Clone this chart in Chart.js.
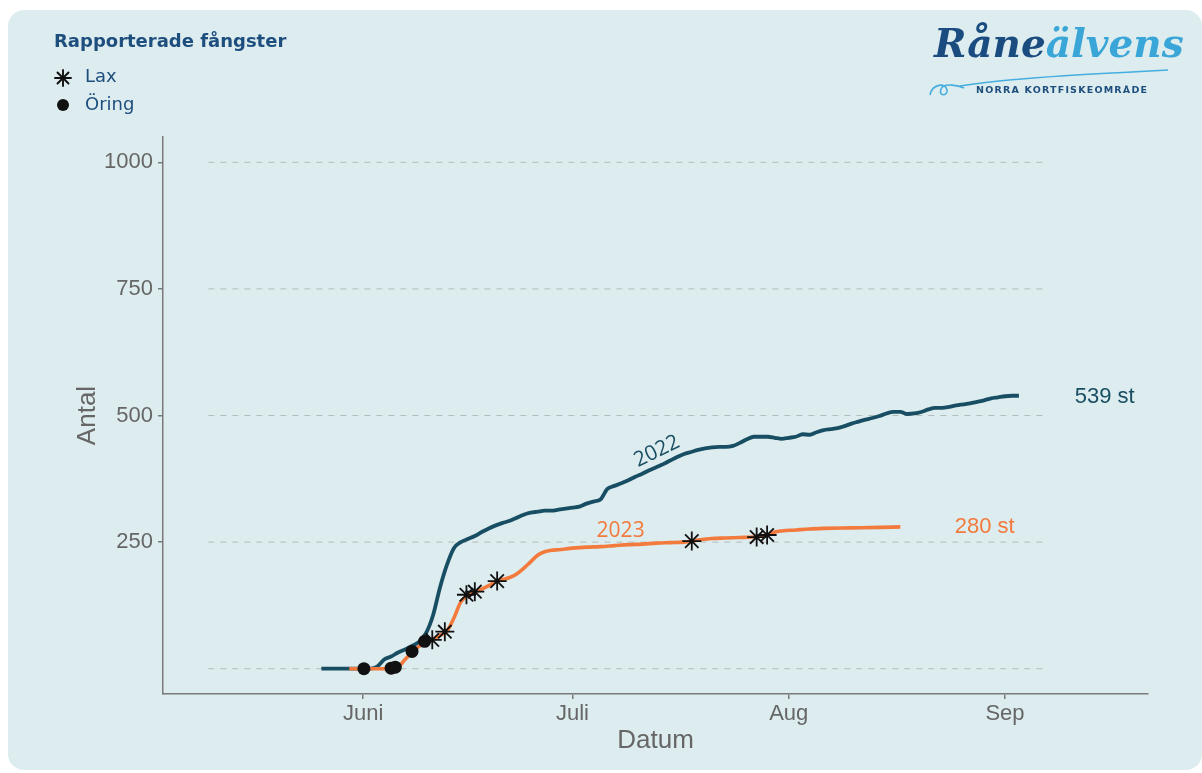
<!DOCTYPE html>
<html>
<head>
<meta charset="utf-8">
<script src="https://cdn.jsdelivr.net/npm/chart.js@4.4.0/dist/chart.umd.min.js"></script>
<style>
  html, body { margin: 0; padding: 0; background: #fff; }
  #wrap { position: relative; width: 1202px; height: 773px; overflow: hidden; }
  #panel { position: absolute; left: 8px; top: 10px; width: 1194px; height: 760px;
           background: #ddecee; border-radius: 16px; }
  #chart { position: absolute; left: 0; top: 0; }
  .leg { position: absolute; font-family: "DejaVu Sans", sans-serif; color: #1d4e7e; }
  #legTitle { left: 54px; top: 30px; font-size: 18px; font-weight: bold; }
  #legLax { left: 85px; top: 65px; font-size: 18px; }
  #legOring { left: 85px; top: 93px; font-size: 18px; }
  #logo { position: absolute; left: 934px; top: 20px; font-family: "DejaVu Serif", serif;
          font-style: italic; font-weight: bold; font-size: 39px; letter-spacing: 0px; }
  #logoSub { position: absolute; left: 976px; top: 84px; font-family: "DejaVu Sans", sans-serif;
             font-weight: bold; font-size: 9.5px; letter-spacing: 1.2px; color: #1d4e7e; }
  svg { position: absolute; left: 0; top: 0; }
</style>
</head>
<body>
<div id="wrap">
  <div id="panel"></div>
  <canvas id="chart" width="1202" height="773"></canvas>
  <div class="leg" id="legTitle">Rapporterade fångster</div>
  <div class="leg" id="legLax">Lax</div>
  <div class="leg" id="legOring">Öring</div>
  <svg width="1202" height="773">
    <g stroke="#111" stroke-width="1.9" stroke-linecap="round">
      <line x1="63" y1="70" x2="63" y2="86"/>
      <line x1="55" y1="78" x2="71" y2="78"/>
      <line x1="57.5" y1="72.5" x2="68.5" y2="83.5"/>
      <line x1="57.5" y1="83.5" x2="68.5" y2="72.5"/>
    </g>
    <circle cx="63" cy="105" r="6" fill="#111"/>
    <path d="M930 95 C932 84, 946 82, 947 90 C948 96, 938 97, 941 89 C944 82, 960 86, 964 88"
          fill="none" stroke="#45aee0" stroke-width="1.6"/>
    <path d="M960 86 C1010 78, 1090 74, 1168 70" fill="none" stroke="#45aee0" stroke-width="1.4"/>
  </svg>
  <div id="logo"><span style="color:#1a4c80">Råne</span><span style="color:#3aa6d8">älvens</span></div>
  <div id="logoSub">NORRA KORTFISKEOMRÅDE</div>
</div>
<script>
// days counted from 1 June
const xTickDays = [0, 30, 61, 92];
const xTickLabels = ['Juni', 'Juli', 'Aug', 'Sep'];
const yTickValues = [250, 500, 750, 1000];
const gridValues = [0, 250, 500, 750, 1000];
const gridDays = [-22.2, 98.1];

const days2022 = [-6, 1, 2, 3, 4, 5, 6, 7, 8, 9, 10, 11, 12, 13, 14, 15, 16, 17, 18, 19, 20,
  21, 22, 23, 24, 25, 26, 27, 28, 29, 30, 31, 32, 33, 34, 35, 36, 37, 38, 39, 40,
  41, 42, 43, 44, 45, 46, 47, 48, 49, 50, 51, 52, 53, 54, 55, 56, 57, 58, 59, 60,
  61, 62, 63, 64, 65, 66, 67, 68, 69, 70, 71, 72, 73, 74, 75, 76, 77, 78, 79, 80,
  81, 82, 83, 84, 85, 86, 87, 88, 89, 90, 91, 92, 93, 94];
const values2022 = [0, 0, 4, 18, 24, 32, 38, 45, 53, 70, 105, 160, 205, 238, 250, 256, 262, 270, 277, 283, 288,
  292, 298, 304, 308, 310, 312, 312, 314, 316, 318, 320, 326, 330, 334, 355, 361, 366, 372, 379, 385,
  392, 398, 404, 411, 418, 424, 428, 432, 435, 437, 438, 438, 440, 446, 453, 458, 458, 458, 456, 454,
  456, 458, 463, 462, 467, 471, 473, 475, 479, 484, 488, 492, 495, 499, 504, 507, 507, 503, 504, 507,
  512, 515, 515, 517, 520, 522, 524, 527, 530, 534, 536, 538, 539, 539];

const days2023 = [-2, 4, 5, 6, 7, 8, 9, 10, 11, 12, 13, 14, 15, 16, 17, 18, 19, 20, 21, 22, 23, 24,
  25, 26, 27, 28, 30, 32, 34, 36, 38, 40, 42, 44, 46, 47, 48, 50, 52, 54, 56, 57, 58, 59, 60,
  62, 64, 66, 70, 74, 77];
const values2023 = [0, 0, 3, 18, 32, 44, 52, 58, 66, 74, 100, 132, 144, 151, 157, 164, 172, 176, 180, 187, 198, 211,
  224, 231, 234, 235, 238, 240, 241, 243, 245, 246, 248, 249, 250, 251, 254, 257, 258, 259, 260, 262, 265, 270, 272,
  274, 276, 277, 278, 279, 280];

const laxDays = [9.9, 11.7, 14.8, 16.0, 19.2, 47.1, 56.4, 57.9];
const laxValues = [57, 73, 146, 152, 173, 252, 260, 264];
const oringDays = [0.1, 4.0, 4.6, 7.0, 8.8];
const oringValues = [0, 1, 3, 34, 54];

const teal = '#184e63';
const orange = '#f27a3c';

const pts = (xs, ys) => xs.map((d, i) => ({ x: d, y: ys[i] }));

const gridSets = gridValues.map(v => ({
  data: pts(gridDays, [v, v]),
  borderColor: '#b4bcbe',
  borderWidth: 1,
  borderDash: [6, 6],
  pointRadius: 0,
  order: 3
}));

const textPlugin = {
  id: 'lineText',
  afterDatasetsDraw(chart) {
    const { ctx, scales: { x, y } } = chart;
    ctx.save();
    ctx.textAlign = 'center';
    ctx.textBaseline = 'middle';
    // end labels
    ctx.font = '22px "Liberation Sans", Arial, sans-serif';
    ctx.fillStyle = teal;
    ctx.fillText(values2022[values2022.length - 1] + ' st', x.getPixelForValue(106.3), y.getPixelForValue(536));
    ctx.fillStyle = orange;
    ctx.fillText(values2023[values2023.length - 1] + ' st', x.getPixelForValue(89.1), y.getPixelForValue(280));
    // year labels
    ctx.font = '21px "Open Sans", sans-serif';
    ctx.save();
    ctx.translate(x.getPixelForValue(42.1), y.getPixelForValue(429));
    ctx.rotate(-26 * Math.PI / 180);
    ctx.fillStyle = teal;
    ctx.fillText('2022', 0, 0);
    ctx.restore();
    ctx.fillStyle = orange;
    ctx.fillText('2023', x.getPixelForValue(36.9), y.getPixelForValue(271));
    ctx.restore();
  }
};

new Chart(document.getElementById('chart'), {
  type: 'line',
  data: {
    datasets: [
      {
        label: 'Lax',
        data: pts(laxDays, laxValues),
        showLine: false,
        pointStyle: 'star',
        pointRadius: 9.5,
        pointBorderColor: '#111',
        pointBorderWidth: 1.8,
        order: 0
      },
      {
        label: 'Öring',
        data: pts(oringDays, oringValues),
        showLine: false,
        pointStyle: 'circle',
        pointRadius: 6.5,
        pointBackgroundColor: '#111',
        pointBorderColor: '#111',
        pointBorderWidth: 0,
        order: 0
      },
      {
        label: '2023',
        data: pts(days2023, values2023),
        borderColor: orange,
        borderWidth: 3.6,
        pointRadius: 0,
        cubicInterpolationMode: 'monotone',
        order: 1
      },
      {
        label: '2022',
        data: pts(days2022, values2022),
        borderColor: teal,
        borderWidth: 3.8,
        pointRadius: 0,
        cubicInterpolationMode: 'monotone',
        order: 2
      },
      ...gridSets
    ]
  },
  options: {
    responsive: false,
    animation: false,
    layout: { padding: { left: 0, top: 137, right: 54, bottom: 0 } },
    plugins: { legend: { display: false }, tooltip: { enabled: false } },
    scales: {
      x: {
        type: 'linear',
        min: -28.7,
        max: 112.5,
        afterBuildTicks: s => { s.ticks = xTickDays.map(v => ({ value: v })); },
        afterFit: s => { s.height = 79; },
        ticks: {
          callback: v => xTickLabels[xTickDays.indexOf(v)],
          color: '#666',
          font: { family: '"Liberation Sans", Arial, sans-serif', size: 22 },
          padding: 2,
          maxRotation: 0
        },
        grid: { drawOnChartArea: false, tickLength: 5, color: '#7a7a7a', lineWidth: 1.5 },
        border: { color: '#7a7a7a', width: 1.5 },
        title: {
          display: true,
          text: 'Datum',
          color: '#666',
          font: { family: '"Liberation Sans", Arial, sans-serif', size: 26 },
          padding: { top: 0, bottom: 17 }
        }
      },
      y: {
        min: -50,
        max: 1050,
        afterBuildTicks: s => { s.ticks = yTickValues.map(v => ({ value: v })); },
        afterFit: s => { s.width = 163; },
        ticks: {
          callback: v => String(v),
          color: '#666',
          font: { family: '"Liberation Sans", Arial, sans-serif', size: 22 },
          padding: 5
        },
        grid: { drawOnChartArea: false, tickLength: 5, color: '#7a7a7a', lineWidth: 1.5 },
        border: { color: '#7a7a7a', width: 1.5 },
        title: {
          display: true,
          text: 'Antal',
          color: '#666',
          font: { family: '"Liberation Sans", Arial, sans-serif', size: 26 },
          padding: { top: 72, bottom: 0 }
        }
      }
    }
  },
  plugins: [textPlugin]
});
</script>
</body>
</html>
